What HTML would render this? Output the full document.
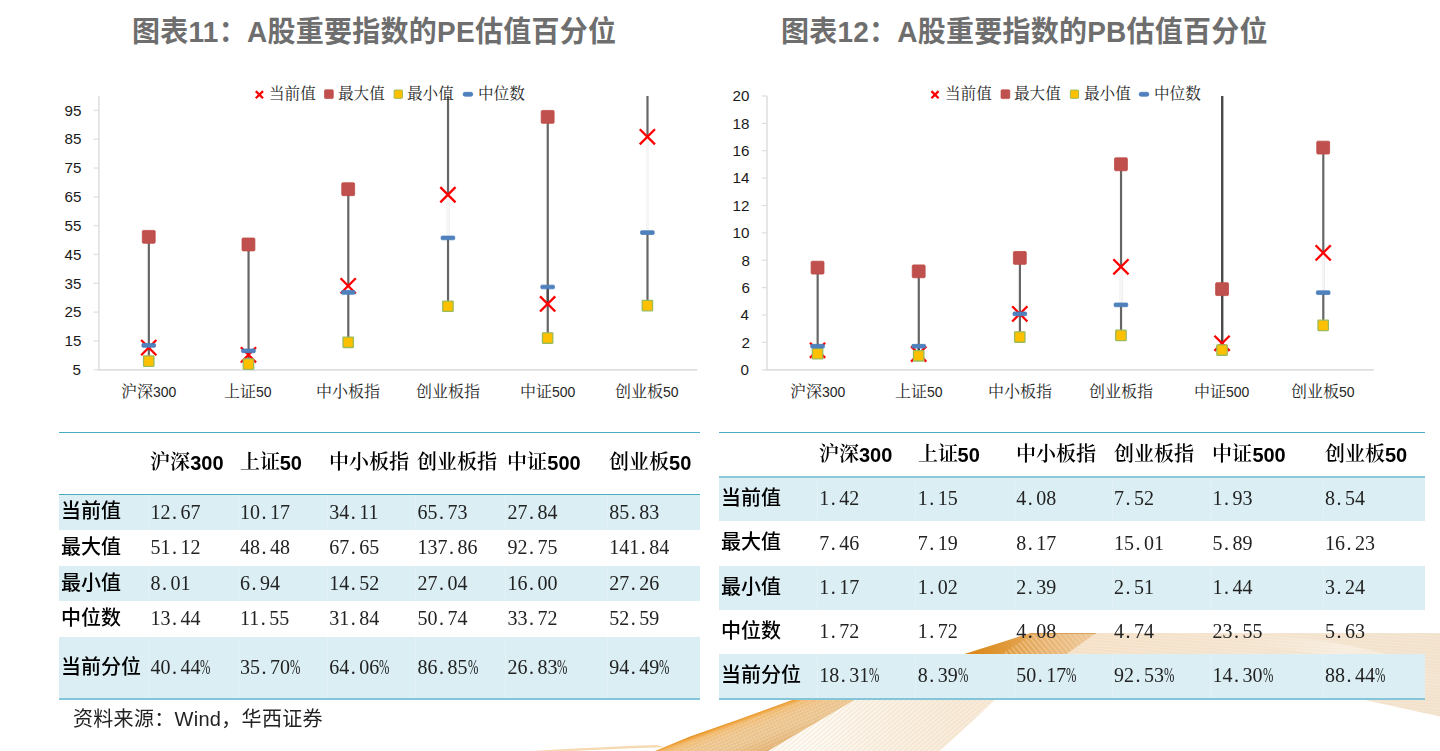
<!DOCTYPE html>
<html lang="zh-CN"><head><meta charset="utf-8"><title>A股重要指数的PE/PB估值百分位</title>
<style>
*{margin:0;padding:0;box-sizing:border-box}
html,body{width:1440px;height:751px;background:#fff;overflow:hidden}
body{font-family:"Liberation Sans",sans-serif;color:#000}
#page{position:relative;width:1440px;height:751px;overflow:hidden;background:#fff}
#art{position:absolute;left:0;top:0}
.t{position:absolute;overflow:hidden}
.t svg,.g svg{position:absolute;left:0;top:0;overflow:visible}
.g{position:relative;display:inline-block;vertical-align:middle;overflow:hidden}
.tb{position:absolute;border-collapse:separate;border-spacing:0;table-layout:fixed;will-change:transform}
.tb th,.tb td{padding:0 0 0 2.2px;text-align:left;vertical-align:middle;white-space:nowrap;overflow:visible}
.tb thead th{font:bold 20px/20px "Liberation Sans",sans-serif;color:#000;border-top:1px solid #4bacc6;border-bottom:1px solid #4bacc6;padding-bottom:1px}
.tb thead th .g{vertical-align:-5.2px}
.tb tbody th{font-weight:normal;line-height:0;padding-top:.6px}
.tl tbody tr:last-child th{padding-top:1.6px}
.tl tbody tr:first-child th{padding-top:0;padding-bottom:1.6px}
.tb tbody td{font:20px/20px "Liberation Serif",serif;color:#222;padding-bottom:1.5px;padding-left:2.4px}
.tb tr.b th,.tb tr.b td{background:#daeef3}
.tb tr.b td{box-shadow:inset 1px 0 0 rgba(255,255,255,.28)}
.tb tbody tr:last-child th,.tb tbody tr:last-child td{border-bottom:2px solid #85c5d9}
.tb td i{display:inline-block;width:10px;font-style:normal;text-align:left;padding-left:1.5px}
.tb td b{display:inline-block;width:10px;font-weight:normal;transform:scaleX(.62);transform-origin:0 50%}
.tr thead th{border-bottom:2px solid #8cc9da;padding-bottom:0;padding-top:.4px}
.tr tbody th{padding-top:0;padding-bottom:0}
.tr tbody tr:first-child th{padding-bottom:1.6px}
.tr tbody td{padding-bottom:1px}
.tr tbody tr:first-child td{padding-bottom:2.6px}
.src{position:absolute;left:73.5px;top:706px;height:26px;font:20px/26px "Liberation Sans",sans-serif;color:#111;white-space:nowrap;display:flex;align-items:center;will-change:transform}
.src span.w{display:inline-block;letter-spacing:.6px;margin:0 2px 0 -2px;position:relative;top:.5px}
.title text{font-family:"Liberation Sans","Noto Sans CJK SC",sans-serif;font-weight:bold;font-size:28px}
.leg text{font-family:"Liberation Serif","Noto Serif CJK SC",serif;font-size:15.6px}
.cat text{font-family:"Liberation Sans","Noto Serif CJK SC",sans-serif;font-size:16px}
.cat text tspan{font-size:14px}
.ax text{font-family:"Liberation Sans",sans-serif;font-size:15.2px}
.tb thead .g text{font-family:"Liberation Serif","Noto Serif CJK SC",serif;font-weight:600;font-size:20px}
.tb tbody .g text{font-family:"Liberation Sans","Noto Sans CJK SC",sans-serif;font-weight:500;font-size:20px}
.src text{font-family:"Liberation Sans","Noto Sans CJK SC",sans-serif;font-size:20px}
</style></head>
<body>
<div id="page">
<svg id="art" width="1440" height="751" viewBox="0 0 1440 751" aria-hidden="true">

<defs>
 <linearGradient id="rb1" gradientUnits="userSpaceOnUse" x1="725" y1="724.5" x2="738.5" y2="761.5">
  <stop offset="0" stop-color="#e8962a"/><stop offset=".035" stop-color="#efa643"/><stop offset=".1" stop-color="#f3bd73"/>
  <stop offset=".3" stop-color="#efc68f"/><stop offset=".6" stop-color="#ecc794"/><stop offset="1" stop-color="#e3b274"/>
 </linearGradient>
 <linearGradient id="rb2" gradientUnits="userSpaceOnUse" x1="812" y1="722" x2="960" y2="734">
  <stop offset="0" stop-color="#fefbf7"/><stop offset=".35" stop-color="#fbf4ea"/><stop offset="1" stop-color="#f8ebdb"/>
 </linearGradient>
 <linearGradient id="rb3" gradientUnits="userSpaceOnUse" x1="975" y1="652" x2="1085" y2="640">
  <stop offset="0" stop-color="#dc8a1d"/><stop offset=".3" stop-color="#e09a3c"/><stop offset=".62" stop-color="#e7b06b"/><stop offset="1" stop-color="#ecc391"/>
 </linearGradient>
 <linearGradient id="rb4" gradientUnits="userSpaceOnUse" x1="1070" y1="0" x2="1440" y2="0">
  <stop offset="0" stop-color="#f5e0c6"/><stop offset=".45" stop-color="#f4e3cd"/><stop offset="1" stop-color="#f2e1cb"/>
 </linearGradient>
 <linearGradient id="rb6" gradientUnits="userSpaceOnUse" x1="1250" y1="633" x2="1440" y2="690">
  <stop offset="0" stop-color="#fff" stop-opacity="0"/><stop offset=".5" stop-color="#fff" stop-opacity=".35"/><stop offset="1" stop-color="#fff" stop-opacity="0"/>
 </linearGradient>
 <pattern id="ht1" width="3.2" height="3.2" patternUnits="userSpaceOnUse" patternTransform="rotate(-24)"><rect width="3.2" height="1.1" fill="#fff" opacity=".2"/><rect width="1" height="3.2" fill="#c98420" opacity=".12"/></pattern>
 <pattern id="ht2" width="3.4" height="3.4" patternUnits="userSpaceOnUse" patternTransform="rotate(-40)"><rect width="3.4" height="1.2" fill="#e9cfa8" opacity=".38"/></pattern>
 <pattern id="ht3" width="4" height="4" patternUnits="userSpaceOnUse" patternTransform="rotate(50)"><rect width="4" height="1.6" fill="#f6dcb8" opacity=".5"/></pattern>
 <pattern id="ht4" width="3" height="3" patternUnits="userSpaceOnUse" patternTransform="rotate(4)"><rect width="3" height="1" fill="#fff" opacity=".22"/></pattern>
</defs>
<!-- thin faint swoosh at far bottom-left -->
<path d="M532 751 Q600 746.8 657 745 L664 747.2 Q612 748.6 572 751Z" fill="#f1cf9f" opacity=".8"/>
<!-- cream band below the tables -->
<path d="M767 751 L855 699 L996 699 L940 751Z" fill="url(#rb2)"/>
<path d="M767 751 L855 699 L996 699 L940 751Z" fill="url(#ht2)"/>
<!-- orange band below the tables -->
<path d="M655 751 L690 736.5 L740 719 L795 699 L856 699 L768 751Z" fill="url(#rb1)"/>
<path d="M672 751 L742 722 L800 701 L852 701 L766 751Z" fill="url(#ht1)"/>
<!-- horizontal tail (seen through the unfilled table row, right of and below the table) -->
<path d="M1060 655 L1095 633 L1440 633 L1440 716.5 L1358 698.5 L1358 655Z" fill="url(#rb4)"/>
<path d="M1060 655 L1095 633 L1440 633 L1440 716.5 L1358 698.5 L1358 655Z" fill="url(#ht4)"/>
<path d="M1230 633 Q1380 640 1440 676 L1440 700 Q1370 652 1200 640Z" fill="url(#rb6)"/>
<!-- orange fold seen through the unfilled table row -->
<path d="M962 654.8 L1030.5 633 L1096 633 L1065.5 654.8Z" fill="url(#rb3)"/>
<path d="M1000 654.8 L1034 634 L1094 634 L1065 654.8Z" fill="url(#ht3)"/>
<path d="M1031 633.5H1096" stroke="#c98a3c" stroke-opacity=".55" stroke-width="1" fill="none"/>

<g id="chart-left"><path d="M98.87 96.00V370.50" stroke="#dedede" stroke-width="1.5" fill="none"/>
<path d="M98.12 369.85H697.25" stroke="#dedede" stroke-width="1.8" fill="none"/>
<path d="M93.67 369.75H98.87" stroke="#dedede" stroke-width="1.2" fill="none"/>
<path d="M93.67 340.93H98.87" stroke="#dedede" stroke-width="1.2" fill="none"/>
<path d="M93.67 312.12H98.87" stroke="#dedede" stroke-width="1.2" fill="none"/>
<path d="M93.67 283.30H98.87" stroke="#dedede" stroke-width="1.2" fill="none"/>
<path d="M93.67 254.48H98.87" stroke="#dedede" stroke-width="1.2" fill="none"/>
<path d="M93.67 225.66H98.87" stroke="#dedede" stroke-width="1.2" fill="none"/>
<path d="M93.67 196.85H98.87" stroke="#dedede" stroke-width="1.2" fill="none"/>
<path d="M93.67 168.03H98.87" stroke="#dedede" stroke-width="1.2" fill="none"/>
<path d="M93.67 139.21H98.87" stroke="#dedede" stroke-width="1.2" fill="none"/>
<path d="M93.67 110.40H98.87" stroke="#dedede" stroke-width="1.2" fill="none"/>
<path d="M148.84 236.85V361.08" stroke="#666" stroke-width="2.2" fill="none"/>
<path d="M148.84 345.43V347.65" stroke="#4a4a4a" stroke-width="2.2" fill="none"/>
<path d="M248.56 244.45V364.16" stroke="#666" stroke-width="2.2" fill="none"/>
<path d="M248.56 350.87V354.85" stroke="#4a4a4a" stroke-width="2.2" fill="none"/>
<path d="M348.30 189.21V342.32" stroke="#666" stroke-width="2.2" fill="none"/>
<path d="M348.30 285.86V292.41" stroke="#f6f6f6" stroke-width="3" fill="none"/>
<path d="M448.03 95.99V306.24" stroke="#666" stroke-width="2.2" fill="none"/>
<path d="M448.03 194.74V237.94" stroke="#f6f6f6" stroke-width="3" fill="none"/>
<path d="M547.75 116.88V338.05" stroke="#666" stroke-width="2.2" fill="none"/>
<path d="M547.75 286.99V303.93" stroke="#4a4a4a" stroke-width="2.2" fill="none"/>
<path d="M647.49 95.99V305.60" stroke="#666" stroke-width="2.2" fill="none"/>
<path d="M647.49 136.82V232.61" stroke="#f6f6f6" stroke-width="3" fill="none"/>
<path d="M141.14 340.05l15.20 15.20M141.14 355.25l15.20 -15.20" stroke="#ff0000" stroke-width="2.3" fill="none"/>
<path d="M240.87 347.25l15.20 15.20M240.87 362.45l15.20 -15.20" stroke="#ff0000" stroke-width="2.3" fill="none"/>
<path d="M340.60 278.26l15.20 15.20M340.60 293.46l15.20 -15.20" stroke="#ff0000" stroke-width="2.3" fill="none"/>
<path d="M440.32 187.14l15.20 15.20M440.32 202.34l15.20 -15.20" stroke="#ff0000" stroke-width="2.3" fill="none"/>
<path d="M540.05 296.33l15.20 15.20M540.05 311.53l15.20 -15.20" stroke="#ff0000" stroke-width="2.3" fill="none"/>
<path d="M639.78 129.22l15.20 15.20M639.78 144.42l15.20 -15.20" stroke="#ff0000" stroke-width="2.3" fill="none"/>
<rect x="142.29" y="230.40" width="12.90" height="12.90" rx="1.2" fill="#c0504d" stroke="#be4b48" stroke-width=".8"/>
<rect x="242.02" y="238.00" width="12.90" height="12.90" rx="1.2" fill="#c0504d" stroke="#be4b48" stroke-width=".8"/>
<rect x="341.75" y="182.76" width="12.90" height="12.90" rx="1.2" fill="#c0504d" stroke="#be4b48" stroke-width=".8"/>
<rect x="541.20" y="110.43" width="12.90" height="12.90" rx="1.2" fill="#c0504d" stroke="#be4b48" stroke-width=".8"/>
<rect x="143.54" y="355.88" width="10.40" height="10.40" rx=".5" fill="#ffc000" stroke="#9bbb59" stroke-width="1.3"/>
<rect x="243.27" y="358.96" width="10.40" height="10.40" rx=".5" fill="#ffc000" stroke="#9bbb59" stroke-width="1.3"/>
<rect x="343.00" y="337.12" width="10.40" height="10.40" rx=".5" fill="#ffc000" stroke="#9bbb59" stroke-width="1.3"/>
<rect x="442.73" y="301.04" width="10.40" height="10.40" rx=".5" fill="#ffc000" stroke="#9bbb59" stroke-width="1.3"/>
<rect x="542.45" y="332.85" width="10.40" height="10.40" rx=".5" fill="#ffc000" stroke="#9bbb59" stroke-width="1.3"/>
<rect x="642.18" y="300.40" width="10.40" height="10.40" rx=".5" fill="#ffc000" stroke="#9bbb59" stroke-width="1.3"/>
<rect x="141.94" y="343.58" width="13.60" height="3.70" rx="1" fill="#4f81bd" stroke="#4a7ebb" stroke-width=".8"/>
<rect x="241.66" y="349.02" width="13.60" height="3.70" rx="1" fill="#4f81bd" stroke="#4a7ebb" stroke-width=".8"/>
<rect x="341.40" y="290.56" width="13.60" height="3.70" rx="1" fill="#4f81bd" stroke="#4a7ebb" stroke-width=".8"/>
<rect x="441.12" y="236.09" width="13.60" height="3.70" rx="1" fill="#4f81bd" stroke="#4a7ebb" stroke-width=".8"/>
<rect x="540.86" y="285.14" width="13.60" height="3.70" rx="1" fill="#4f81bd" stroke="#4a7ebb" stroke-width=".8"/>
<rect x="640.59" y="230.76" width="13.60" height="3.70" rx="1" fill="#4f81bd" stroke="#4a7ebb" stroke-width=".8"/>
<path d="M255.80 91.10l7.20 7.20M255.80 98.30l7.20 -7.20" stroke="#ff0000" stroke-width="2.2" fill="none"/>
<rect x="324.50" y="89.80" width="8.80" height="8.80" rx="1" fill="#c0504d" stroke="#be4b48" stroke-width=".7"/>
<rect x="394.15" y="90.05" width="8.30" height="8.30" rx=".7" fill="#ffc000" stroke="#9bbb59" stroke-width="1"/>
<rect x="463.10" y="92.30" width="9.60" height="3.90" rx="1.8" fill="#4f81bd" stroke="#4a7ebb" stroke-width=".8"/></g>
<g id="chart-right"><path d="M767.00 96.00V370.50" stroke="#dedede" stroke-width="1.5" fill="none"/>
<path d="M766.25 369.85H1373.75" stroke="#dedede" stroke-width="1.8" fill="none"/>
<path d="M761.80 369.75H767.00" stroke="#dedede" stroke-width="1.2" fill="none"/>
<path d="M761.80 342.38H767.00" stroke="#dedede" stroke-width="1.2" fill="none"/>
<path d="M761.80 315.00H767.00" stroke="#dedede" stroke-width="1.2" fill="none"/>
<path d="M761.80 287.62H767.00" stroke="#dedede" stroke-width="1.2" fill="none"/>
<path d="M761.80 260.25H767.00" stroke="#dedede" stroke-width="1.2" fill="none"/>
<path d="M761.80 232.88H767.00" stroke="#dedede" stroke-width="1.2" fill="none"/>
<path d="M761.80 205.50H767.00" stroke="#dedede" stroke-width="1.2" fill="none"/>
<path d="M761.80 178.12H767.00" stroke="#dedede" stroke-width="1.2" fill="none"/>
<path d="M761.80 150.75H767.00" stroke="#dedede" stroke-width="1.2" fill="none"/>
<path d="M761.80 123.38H767.00" stroke="#dedede" stroke-width="1.2" fill="none"/>
<path d="M761.80 96.00H767.00" stroke="#dedede" stroke-width="1.2" fill="none"/>
<path d="M817.66 267.64V353.74" stroke="#666" stroke-width="2.2" fill="none"/>
<path d="M817.66 346.21V350.31" stroke="#4a4a4a" stroke-width="2.2" fill="none"/>
<path d="M918.79 271.34V355.79" stroke="#666" stroke-width="2.2" fill="none"/>
<path d="M918.79 346.21V354.01" stroke="#4a4a4a" stroke-width="2.2" fill="none"/>
<path d="M1019.91 257.92V337.04" stroke="#666" stroke-width="2.2" fill="none"/>
<path d="M1121.04 164.30V335.39" stroke="#666" stroke-width="2.2" fill="none"/>
<path d="M1121.04 266.82V304.87" stroke="#f6f6f6" stroke-width="3" fill="none"/>
<path d="M1222.16 96.00V350.04" stroke="#666" stroke-width="2.2" fill="none"/>
<path d="M1222.16 96.00V343.33" stroke="#4a4a4a" stroke-width="2.2" fill="none"/>
<path d="M1323.29 147.60V325.40" stroke="#666" stroke-width="2.2" fill="none"/>
<path d="M1323.29 252.86V292.69" stroke="#f6f6f6" stroke-width="3" fill="none"/>
<path d="M809.96 342.71l15.20 15.20M809.96 357.91l15.20 -15.20" stroke="#ff0000" stroke-width="2.3" fill="none"/>
<path d="M911.09 346.41l15.20 15.20M911.09 361.61l15.20 -15.20" stroke="#ff0000" stroke-width="2.3" fill="none"/>
<path d="M1012.21 306.30l15.20 15.20M1012.21 321.50l15.20 -15.20" stroke="#ff0000" stroke-width="2.3" fill="none"/>
<path d="M1113.34 259.22l15.20 15.20M1113.34 274.42l15.20 -15.20" stroke="#ff0000" stroke-width="2.3" fill="none"/>
<path d="M1214.46 335.73l15.20 15.20M1214.46 350.93l15.20 -15.20" stroke="#ff0000" stroke-width="2.3" fill="none"/>
<path d="M1315.59 245.26l15.20 15.20M1315.59 260.46l15.20 -15.20" stroke="#ff0000" stroke-width="2.3" fill="none"/>
<rect x="811.11" y="261.19" width="12.90" height="12.90" rx="1.2" fill="#c0504d" stroke="#be4b48" stroke-width=".8"/>
<rect x="912.24" y="264.89" width="12.90" height="12.90" rx="1.2" fill="#c0504d" stroke="#be4b48" stroke-width=".8"/>
<rect x="1013.36" y="251.47" width="12.90" height="12.90" rx="1.2" fill="#c0504d" stroke="#be4b48" stroke-width=".8"/>
<rect x="1114.49" y="157.85" width="12.90" height="12.90" rx="1.2" fill="#c0504d" stroke="#be4b48" stroke-width=".8"/>
<rect x="1215.61" y="282.68" width="12.90" height="12.90" rx="1.2" fill="#c0504d" stroke="#be4b48" stroke-width=".8"/>
<rect x="1316.74" y="141.15" width="12.90" height="12.90" rx="1.2" fill="#c0504d" stroke="#be4b48" stroke-width=".8"/>
<rect x="812.36" y="348.54" width="10.40" height="10.40" rx=".5" fill="#ffc000" stroke="#9bbb59" stroke-width="1.3"/>
<rect x="913.49" y="350.59" width="10.40" height="10.40" rx=".5" fill="#ffc000" stroke="#9bbb59" stroke-width="1.3"/>
<rect x="1014.61" y="331.84" width="10.40" height="10.40" rx=".5" fill="#ffc000" stroke="#9bbb59" stroke-width="1.3"/>
<rect x="1115.74" y="330.19" width="10.40" height="10.40" rx=".5" fill="#ffc000" stroke="#9bbb59" stroke-width="1.3"/>
<rect x="1216.86" y="344.84" width="10.40" height="10.40" rx=".5" fill="#ffc000" stroke="#9bbb59" stroke-width="1.3"/>
<rect x="1317.99" y="320.20" width="10.40" height="10.40" rx=".5" fill="#ffc000" stroke="#9bbb59" stroke-width="1.3"/>
<rect x="810.76" y="344.36" width="13.60" height="3.70" rx="1" fill="#4f81bd" stroke="#4a7ebb" stroke-width=".8"/>
<rect x="911.89" y="344.36" width="13.60" height="3.70" rx="1" fill="#4f81bd" stroke="#4a7ebb" stroke-width=".8"/>
<rect x="1013.01" y="312.05" width="13.60" height="3.70" rx="1" fill="#4f81bd" stroke="#4a7ebb" stroke-width=".8"/>
<rect x="1114.14" y="303.02" width="13.60" height="3.70" rx="1" fill="#4f81bd" stroke="#4a7ebb" stroke-width=".8"/>
<rect x="1316.39" y="290.84" width="13.60" height="3.70" rx="1" fill="#4f81bd" stroke="#4a7ebb" stroke-width=".8"/>
<path d="M931.40 91.10l7.20 7.20M931.40 98.30l7.20 -7.20" stroke="#ff0000" stroke-width="2.2" fill="none"/>
<rect x="1001.00" y="89.80" width="8.80" height="8.80" rx="1" fill="#c0504d" stroke="#be4b48" stroke-width=".7"/>
<rect x="1070.35" y="90.05" width="8.30" height="8.30" rx=".7" fill="#ffc000" stroke="#9bbb59" stroke-width="1"/>
<rect x="1139.20" y="92.30" width="9.60" height="3.90" rx="1.8" fill="#4f81bd" stroke="#4a7ebb" stroke-width=".8"/></g>
</svg>
<div class="t title" style="left:131.98px;top:12.90px;width:485.05px;height:37.80px"><svg width="485.05" height="37.80" fill="#6e6e6e"><g transform="translate(0 29.40) scale(0.9997 1.0400)"><text x="0" y="0" textLength="484.2" lengthAdjust="spacing">图表11：A股重要指数的PE估值百分位</text></g></svg></div>
<div class="t title" style="left:780.68px;top:13.00px;width:487.55px;height:37.80px"><svg width="487.55" height="37.80" fill="#6e6e6e"><g transform="translate(0 29.40) scale(1.0010 1.0400)"><text x="0" y="0" textLength="486" lengthAdjust="spacing">图表12：A股重要指数的PB估值百分位</text></g></svg></div>
<div class="t leg" style="left:269.40px;top:82.72px;width:47.80px;height:21.06px"><svg width="47.80" height="21.06" fill="#262626"><text x="0" y="16.38">当前值</text></svg></div>
<div class="t leg" style="left:337.70px;top:82.72px;width:47.80px;height:21.06px"><svg width="47.80" height="21.06" fill="#262626"><text x="0" y="16.38">最大值</text></svg></div>
<div class="t leg" style="left:407.40px;top:82.72px;width:47.80px;height:21.06px"><svg width="47.80" height="21.06" fill="#262626"><text x="0" y="16.38">最小值</text></svg></div>
<div class="t leg" style="left:477.50px;top:82.72px;width:47.80px;height:21.06px"><svg width="47.80" height="21.06" fill="#262626"><text x="0" y="16.38">中位数</text></svg></div>
<div class="t leg" style="left:945.00px;top:82.72px;width:47.80px;height:21.06px"><svg width="47.80" height="21.06" fill="#262626"><text x="0" y="16.38">当前值</text></svg></div>
<div class="t leg" style="left:1014.20px;top:82.72px;width:47.80px;height:21.06px"><svg width="47.80" height="21.06" fill="#262626"><text x="0" y="16.38">最大值</text></svg></div>
<div class="t leg" style="left:1083.60px;top:82.72px;width:47.80px;height:21.06px"><svg width="47.80" height="21.06" fill="#262626"><text x="0" y="16.38">最小值</text></svg></div>
<div class="t leg" style="left:1153.60px;top:82.72px;width:47.80px;height:21.06px"><svg width="47.80" height="21.06" fill="#262626"><text x="0" y="16.38">中位数</text></svg></div>
<div class="t cat" style="left:120.76px;top:380.20px;width:56.35px;height:21.60px"><svg width="56.35" height="21.60" fill="#262626"><text x="0" y="16.80">沪深<tspan>300</tspan></text></svg></div>
<div class="t cat" style="left:224.38px;top:380.20px;width:48.57px;height:21.60px"><svg width="48.57" height="21.60" fill="#262626"><text x="0" y="16.80">上证<tspan>50</tspan></text></svg></div>
<div class="t cat" style="left:315.90px;top:380.20px;width:65.00px;height:21.60px"><svg width="65.00" height="21.60" fill="#262626"><text x="0" y="16.80">中小板指</text></svg></div>
<div class="t cat" style="left:415.62px;top:380.20px;width:65.00px;height:21.60px"><svg width="65.00" height="21.60" fill="#262626"><text x="0" y="16.80">创业板指</text></svg></div>
<div class="t cat" style="left:519.68px;top:380.20px;width:56.35px;height:21.60px"><svg width="56.35" height="21.60" fill="#262626"><text x="0" y="16.80">中证<tspan>500</tspan></text></svg></div>
<div class="t cat" style="left:615.30px;top:380.20px;width:64.57px;height:21.60px"><svg width="64.57" height="21.60" fill="#262626"><text x="0" y="16.80">创业板<tspan>50</tspan></text></svg></div>
<div class="t cat" style="left:789.59px;top:380.20px;width:56.35px;height:21.60px"><svg width="56.35" height="21.60" fill="#262626"><text x="0" y="16.80">沪深<tspan>300</tspan></text></svg></div>
<div class="t cat" style="left:894.60px;top:380.20px;width:48.57px;height:21.60px"><svg width="48.57" height="21.60" fill="#262626"><text x="0" y="16.80">上证<tspan>50</tspan></text></svg></div>
<div class="t cat" style="left:987.51px;top:380.20px;width:65.00px;height:21.60px"><svg width="65.00" height="21.60" fill="#262626"><text x="0" y="16.80">中小板指</text></svg></div>
<div class="t cat" style="left:1088.64px;top:380.20px;width:65.00px;height:21.60px"><svg width="65.00" height="21.60" fill="#262626"><text x="0" y="16.80">创业板指</text></svg></div>
<div class="t cat" style="left:1194.09px;top:380.20px;width:56.35px;height:21.60px"><svg width="56.35" height="21.60" fill="#262626"><text x="0" y="16.80">中证<tspan>500</tspan></text></svg></div>
<div class="t cat" style="left:1291.10px;top:380.20px;width:64.57px;height:21.60px"><svg width="64.57" height="21.60" fill="#262626"><text x="0" y="16.80">创业板<tspan>50</tspan></text></svg></div>
<div class="t ax" style="left:72.42px;top:357.01px;width:9.46px;height:22.55px"><svg width="9.46" height="22.55" fill="#1a1a1a"><text x="0.5" y="17.54">5</text></svg></div>
<div class="t ax" style="left:63.96px;top:328.20px;width:17.93px;height:22.55px"><svg width="17.93" height="22.55" fill="#1a1a1a"><text x="0.5" y="17.54">15</text></svg></div>
<div class="t ax" style="left:63.96px;top:299.38px;width:17.93px;height:22.55px"><svg width="17.93" height="22.55" fill="#1a1a1a"><text x="0.5" y="17.54">25</text></svg></div>
<div class="t ax" style="left:63.96px;top:270.56px;width:17.93px;height:22.55px"><svg width="17.93" height="22.55" fill="#1a1a1a"><text x="0.5" y="17.54">35</text></svg></div>
<div class="t ax" style="left:63.96px;top:241.75px;width:17.93px;height:22.55px"><svg width="17.93" height="22.55" fill="#1a1a1a"><text x="0.5" y="17.54">45</text></svg></div>
<div class="t ax" style="left:63.96px;top:212.93px;width:17.93px;height:22.55px"><svg width="17.93" height="22.55" fill="#1a1a1a"><text x="0.5" y="17.54">55</text></svg></div>
<div class="t ax" style="left:63.96px;top:184.11px;width:17.93px;height:22.55px"><svg width="17.93" height="22.55" fill="#1a1a1a"><text x="0.5" y="17.54">65</text></svg></div>
<div class="t ax" style="left:63.96px;top:155.30px;width:17.93px;height:22.55px"><svg width="17.93" height="22.55" fill="#1a1a1a"><text x="0.5" y="17.54">75</text></svg></div>
<div class="t ax" style="left:63.96px;top:126.48px;width:17.93px;height:22.55px"><svg width="17.93" height="22.55" fill="#1a1a1a"><text x="0.5" y="17.54">85</text></svg></div>
<div class="t ax" style="left:63.96px;top:97.66px;width:17.93px;height:22.55px"><svg width="17.93" height="22.55" fill="#1a1a1a"><text x="0.5" y="17.54">95</text></svg></div>
<div class="t ax" style="left:740.37px;top:357.01px;width:9.46px;height:22.55px"><svg width="9.46" height="22.55" fill="#1a1a1a"><text x="0.5" y="17.54">0</text></svg></div>
<div class="t ax" style="left:740.65px;top:329.64px;width:9.46px;height:22.55px"><svg width="9.46" height="22.55" fill="#1a1a1a"><text x="0.5" y="17.54">2</text></svg></div>
<div class="t ax" style="left:740.21px;top:302.26px;width:9.46px;height:22.55px"><svg width="9.46" height="22.55" fill="#1a1a1a"><text x="0.5" y="17.54">4</text></svg></div>
<div class="t ax" style="left:740.51px;top:274.89px;width:9.46px;height:22.55px"><svg width="9.46" height="22.55" fill="#1a1a1a"><text x="0.5" y="17.54">6</text></svg></div>
<div class="t ax" style="left:740.60px;top:247.52px;width:9.46px;height:22.55px"><svg width="9.46" height="22.55" fill="#1a1a1a"><text x="0.5" y="17.54">8</text></svg></div>
<div class="t ax" style="left:731.90px;top:220.14px;width:17.93px;height:22.55px"><svg width="17.93" height="22.55" fill="#1a1a1a"><text x="0.5" y="17.54">10</text></svg></div>
<div class="t ax" style="left:732.18px;top:192.77px;width:17.93px;height:22.55px"><svg width="17.93" height="22.55" fill="#1a1a1a"><text x="0.5" y="17.54">12</text></svg></div>
<div class="t ax" style="left:731.75px;top:165.39px;width:17.93px;height:22.55px"><svg width="17.93" height="22.55" fill="#1a1a1a"><text x="0.5" y="17.54">14</text></svg></div>
<div class="t ax" style="left:732.05px;top:138.02px;width:17.93px;height:22.55px"><svg width="17.93" height="22.55" fill="#1a1a1a"><text x="0.5" y="17.54">16</text></svg></div>
<div class="t ax" style="left:732.14px;top:110.64px;width:17.93px;height:22.55px"><svg width="17.93" height="22.55" fill="#1a1a1a"><text x="0.5" y="17.54">18</text></svg></div>
<div class="t ax" style="left:731.90px;top:83.27px;width:17.93px;height:22.55px"><svg width="17.93" height="22.55" fill="#1a1a1a"><text x="0.5" y="17.54">20</text></svg></div>
<table class="tb tl" style="left:59.10px;top:432.00px;width:641.20px">
<colgroup><col style="width:89.00px"><col style="width:89.50px"><col style="width:89.30px"><col style="width:88.40px"><col style="width:89.90px"><col style="width:101.80px"><col style="width:93.30px"></colgroup>
<thead><tr style="height:63.00px"><th></th>
<th><span class="g" style="width:40.00px;height:24.00px;"><svg width="40.00" height="24.00" fill="#000"><text x="0" y="18.4">沪深</text></svg></span>300</th>
<th><span class="g" style="width:40.00px;height:24.00px;"><svg width="40.00" height="24.00" fill="#000"><text x="0" y="18.4">上证</text></svg></span>50</th>
<th><span class="g" style="width:80.00px;height:24.00px;"><svg width="80.00" height="24.00" fill="#000"><text x="0" y="18.4">中小板指</text></svg></span></th>
<th><span class="g" style="width:80.00px;height:24.00px;"><svg width="80.00" height="24.00" fill="#000"><text x="0" y="18.4">创业板指</text></svg></span></th>
<th><span class="g" style="width:40.00px;height:24.00px;"><svg width="40.00" height="24.00" fill="#000"><text x="0" y="18.4">中证</text></svg></span>500</th>
<th><span class="g" style="width:60.00px;height:24.00px;"><svg width="60.00" height="24.00" fill="#000"><text x="0" y="18.4">创业板</text></svg></span>50</th>
</tr></thead><tbody>
<tr class="b" style="height:34.80px"><th><span class="g" style="width:60.00px;height:24.00px;"><svg width="60.00" height="24.00" fill="#000"><text x="0" y="18.4">当前值</text></svg></span></th><td>12<i>.</i>67</td><td>10<i>.</i>17</td><td>34<i>.</i>11</td><td>65<i>.</i>73</td><td>27<i>.</i>84</td><td>85<i>.</i>83</td></tr>
<tr class="w" style="height:35.80px"><th><span class="g" style="width:60.00px;height:24.00px;"><svg width="60.00" height="24.00" fill="#000"><text x="0" y="18.4">最大值</text></svg></span></th><td>51<i>.</i>12</td><td>48<i>.</i>48</td><td>67<i>.</i>65</td><td>137<i>.</i>86</td><td>92<i>.</i>75</td><td>141<i>.</i>84</td></tr>
<tr class="b" style="height:35.40px"><th><span class="g" style="width:60.00px;height:24.00px;"><svg width="60.00" height="24.00" fill="#000"><text x="0" y="18.4">最小值</text></svg></span></th><td>8<i>.</i>01</td><td>6<i>.</i>94</td><td>14<i>.</i>52</td><td>27<i>.</i>04</td><td>16<i>.</i>00</td><td>27<i>.</i>26</td></tr>
<tr class="w" style="height:36.00px"><th><span class="g" style="width:60.00px;height:24.00px;"><svg width="60.00" height="24.00" fill="#000"><text x="0" y="18.4">中位数</text></svg></span></th><td>13<i>.</i>44</td><td>11<i>.</i>55</td><td>31<i>.</i>84</td><td>50<i>.</i>74</td><td>33<i>.</i>72</td><td>52<i>.</i>59</td></tr>
<tr class="b" style="height:63.00px"><th><span class="g" style="width:80.00px;height:24.00px;"><svg width="80.00" height="24.00" fill="#000"><text x="0" y="18.4">当前分位</text></svg></span></th><td>40<i>.</i>44<b>%</b></td><td>35<i>.</i>70<b>%</b></td><td>64<i>.</i>06<b>%</b></td><td>86<i>.</i>85<b>%</b></td><td>26<i>.</i>83<b>%</b></td><td>94<i>.</i>49<b>%</b></td></tr>
</tbody></table>
<table class="tb tr" style="left:719.10px;top:432.00px;width:706.30px">
<colgroup><col style="width:97.80px"><col style="width:98.60px"><col style="width:98.50px"><col style="width:97.80px"><col style="width:98.50px"><col style="width:112.50px"><col style="width:102.60px"></colgroup>
<thead><tr style="height:46.00px"><th></th>
<th><span class="g" style="width:40.00px;height:24.00px;"><svg width="40.00" height="24.00" fill="#000"><text x="0" y="18.4">沪深</text></svg></span>300</th>
<th><span class="g" style="width:40.00px;height:24.00px;"><svg width="40.00" height="24.00" fill="#000"><text x="0" y="18.4">上证</text></svg></span>50</th>
<th><span class="g" style="width:80.00px;height:24.00px;"><svg width="80.00" height="24.00" fill="#000"><text x="0" y="18.4">中小板指</text></svg></span></th>
<th><span class="g" style="width:80.00px;height:24.00px;"><svg width="80.00" height="24.00" fill="#000"><text x="0" y="18.4">创业板指</text></svg></span></th>
<th><span class="g" style="width:40.00px;height:24.00px;"><svg width="40.00" height="24.00" fill="#000"><text x="0" y="18.4">中证</text></svg></span>500</th>
<th><span class="g" style="width:60.00px;height:24.00px;"><svg width="60.00" height="24.00" fill="#000"><text x="0" y="18.4">创业板</text></svg></span>50</th>
</tr></thead><tbody>
<tr class="b" style="height:43.20px"><th><span class="g" style="width:60.00px;height:24.00px;"><svg width="60.00" height="24.00" fill="#000"><text x="0" y="18.4">当前值</text></svg></span></th><td>1<i>.</i>42</td><td>1<i>.</i>15</td><td>4<i>.</i>08</td><td>7<i>.</i>52</td><td>1<i>.</i>93</td><td>8<i>.</i>54</td></tr>
<tr class="w" style="height:44.40px"><th><span class="g" style="width:60.00px;height:24.00px;"><svg width="60.00" height="24.00" fill="#000"><text x="0" y="18.4">最大值</text></svg></span></th><td>7<i>.</i>46</td><td>7<i>.</i>19</td><td>8<i>.</i>17</td><td>15<i>.</i>01</td><td>5<i>.</i>89</td><td>16<i>.</i>23</td></tr>
<tr class="b" style="height:44.30px"><th><span class="g" style="width:60.00px;height:24.00px;"><svg width="60.00" height="24.00" fill="#000"><text x="0" y="18.4">最小值</text></svg></span></th><td>1<i>.</i>17</td><td>1<i>.</i>02</td><td>2<i>.</i>39</td><td>2<i>.</i>51</td><td>1<i>.</i>44</td><td>3<i>.</i>24</td></tr>
<tr class="w" style="height:44.00px"><th><span class="g" style="width:60.00px;height:24.00px;"><svg width="60.00" height="24.00" fill="#000"><text x="0" y="18.4">中位数</text></svg></span></th><td>1<i>.</i>72</td><td>1<i>.</i>72</td><td>4<i>.</i>08</td><td>4<i>.</i>74</td><td>23<i>.</i>55</td><td>5<i>.</i>63</td></tr>
<tr class="b" style="height:46.10px"><th><span class="g" style="width:80.00px;height:24.00px;"><svg width="80.00" height="24.00" fill="#000"><text x="0" y="18.4">当前分位</text></svg></span></th><td>18<i>.</i>31<b>%</b></td><td>8<i>.</i>39<b>%</b></td><td>50<i>.</i>17<b>%</b></td><td>92<i>.</i>53<b>%</b></td><td>14<i>.</i>30<b>%</b></td><td>88<i>.</i>44<b>%</b></td></tr>
</tbody></table>
<div class="t src" style="left:73.42px;top:705.30px;width:250.08px;height:27.00px"><svg width="250.08" height="27.00" fill="#222"><text x="0" y="21" textLength="249.5" lengthAdjust="spacing">资料来源：Wind，华西证券</text></svg></div>
</div>
</body></html>
